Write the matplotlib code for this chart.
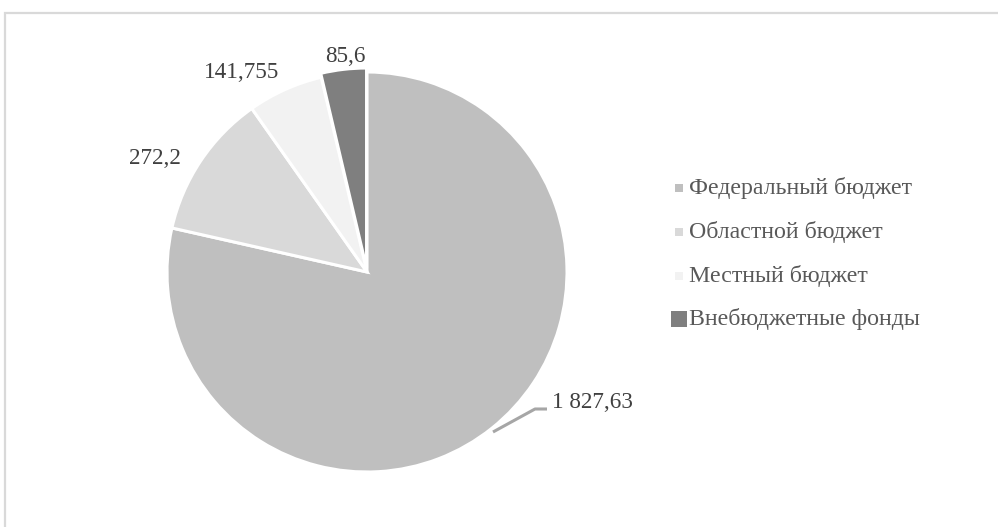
import matplotlib.pyplot as plt
from matplotlib.patches import Rectangle

# Data
categories = ['Федеральный бюджет', 'Областной бюджет', 'Местный бюджет', 'Внебюджетные фонды']
values = [1827.63, 272.2, 141.755, 85.6]
value_labels = ['1 827,63', '272,2', '141,755', '85,6']
colors = ['#bfbfbf', '#d9d9d9', '#f2f2f2', '#7f7f7f']

plt.rcParams['font.family'] = ['Liberation Serif', 'DejaVu Serif']

W, H = 998, 527
fig = plt.figure(figsize=(W / 100, H / 100), dpi=100)

# outer chart frame (light grey, only top/left visible)
fig.patches.append(Rectangle((5 / W, -0.1), 1.2, (H - 13) / H + 0.1, transform=fig.transFigure,
                             fill=False, edgecolor='#d9d9d9', linewidth=1.6))

cx, cy, r = 367, 272, 200
ax = fig.add_axes([(cx - r) / W, (H - cy - r) / H, 2 * r / W, 2 * r / H])

wedges, _ = ax.pie(values, colors=colors, startangle=90, counterclock=False,
                   explode=[0, 0, 0, 0.02],
                   wedgeprops=dict(edgecolor='white', linewidth=2.2))
ax.set_xlim(-1, 1)
ax.set_ylim(-1, 1)
ax.set_aspect('equal')

# data labels
label_pos = [(0.925, -0.65), (-1.06, 0.565), (-0.625, 1.0), (-0.11, 1.075)]
for (x, y), txt, i in zip(label_pos, value_labels, range(4)):
    ha = 'left' if i == 0 else 'center'
    ax.text(x, y, txt, ha=ha, va='center', fontsize=16.7, color='#404040')

# leader line for the big slice
ax.plot([0.63, 0.84, 0.9], [-0.8, -0.685, -0.685], color='#a6a6a6', lw=2.2,
        solid_capstyle='butt', clip_on=False)

# legend, drawn in pixel coordinates of an overlay axes
lax = fig.add_axes([0, 0, 1, 1])
lax.set_xlim(0, W)
lax.set_ylim(H, 0)
lax.axis('off')
row_y = [188, 232, 276, 319]
for i, (name, c) in enumerate(zip(categories, colors)):
    big = i == 3
    lax.plot(679.5, row_y[i], marker='s', linestyle='none', color=c,
             markersize=(11.5 if big else 5.6), markeredgewidth=0)
    lax.text(689, row_y[i], name, ha='left', va='center', fontsize=17.2, color='#595959')

fig.savefig('out.png', dpi=100)
